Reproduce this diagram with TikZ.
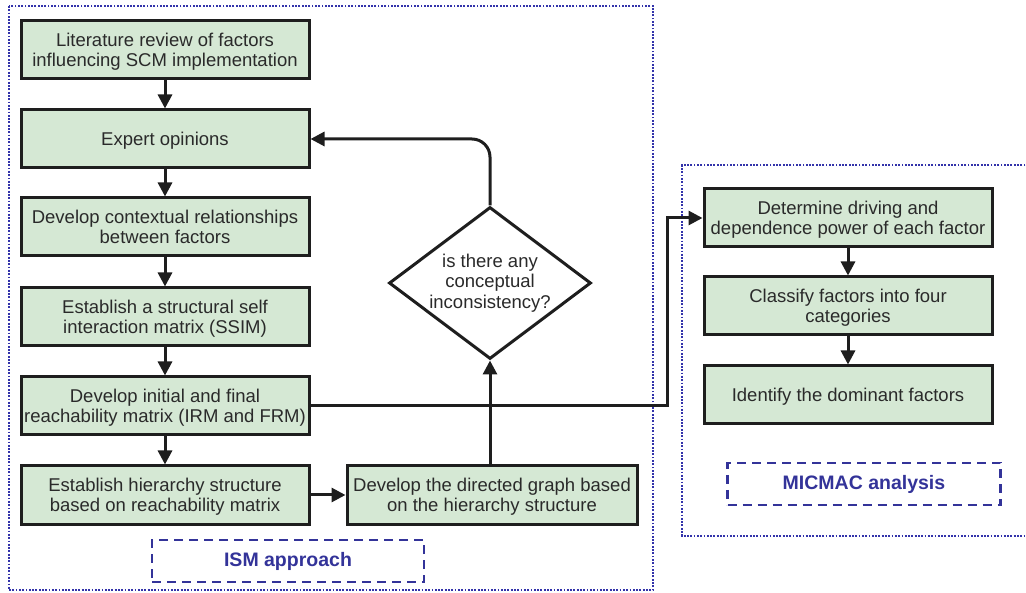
\documentclass[tikz,border=0pt]{standalone}
\usepackage{fontspec}
\setmainfont{Liberation Sans}
\usetikzlibrary{shapes.geometric,arrows.meta,positioning}
\definecolor{boxfill}{HTML}{D5E8D4}
\definecolor{boxline}{HTML}{1E1E1E}
\definecolor{txt}{HTML}{2A2A2A}
\definecolor{labblue}{HTML}{333399}
\definecolor{dotblue}{HTML}{3333AA}
\tikzset{
  stepbox/.style={draw=boxline, line width=3pt, fill=boxfill, minimum width=288pt, minimum height=58pt, align=center, text=txt, font=\fontsize{18.5}{20}\selectfont, inner sep=0pt, text depth=0pt, yshift=0pt},
  decision/.style={draw=boxline, line width=3pt, fill=white, diamond, aspect=1.33, minimum width=202pt, minimum height=152pt, align=center, text=txt, font=\fontsize{18.5}{20.5}\selectfont, inner sep=0pt},
  tag/.style={draw=labblue, dash pattern=on 9pt off 6pt, line width=2.6pt, minimum width=272pt, minimum height=42pt, text=labblue, font=\bfseries\fontsize{19.5}{22}\selectfont},
  outer/.style={draw=dotblue, line width=2.6pt, dash pattern=on 1.8pt off 1.5pt},
  conn/.style={draw=boxline, line width=3pt, -{Triangle[length=14pt,width=14pt]}},
}
\begin{document}
\begin{tikzpicture}[x=1pt,y=-1pt]
\useasboundingbox (0,0) rectangle (1026,593);
% outer groups
\draw[outer] (9,6) rectangle (653,590);
\draw[outer] (1032,165) -- (682,165) -- (682,536) -- (1032,536);
% left column
\node[stepbox] (b1) at (165,50) {Literature review of factors\\influencing SCM implementation};
\node[stepbox] (b2) at (165,139) {Expert opinions};
\node[stepbox] (b3) at (165,227) {Develop contextual relationships\\between factors};
\node[stepbox] (b4) at (165,317) {Establish a structural self\\interaction matrix (SSIM)};
\node[stepbox] (b5) at (165,406) {Develop initial and final\\reachability matrix (IRM and FRM)};
\node[stepbox] (b6) at (165,495) {Establish hierarchy structure\\based on reachability matrix};
\node[stepbox, minimum width=290pt] (b7) at (492,495) {Develop the directed graph based\\on the hierarchy structure};
\node[decision] (d) at (490,283) {is there any\\conceptual\\inconsistency?};
% right column
\node[stepbox] (r1) at (848,218) {Determine driving and\\dependence power of each factor};
\node[stepbox] (r2) at (848,306) {Classify factors into four\\categories};
\node[stepbox] (r3) at (848,395) {Identify the dominant factors};
% labels
\node[tag] (ism) at (288,561) {ISM approach};
\node[tag, minimum width=273pt] (mic) at (864,484) {MICMAC analysis};
% connectors
\draw[conn] (b1) -- (b2);
\draw[conn] (b2) -- (b3);
\draw[conn] (b3) -- (b4);
\draw[conn] (b4) -- (b5);
\draw[conn] (b5) -- (b6);
\draw[conn] (b6) -- (b7);
\draw[conn] (b7.north -| d.south) -- (d.south);
\draw[conn, rounded corners=18pt] (d.north) -- (490,139) -- (b2.east);
\draw[conn] (b5.east) -- (667,406) -- (667,218) -- (r1.west);
\draw[conn] (r1) -- (r2);
\draw[conn] (r2) -- (r3);
\end{tikzpicture}
\end{document}
